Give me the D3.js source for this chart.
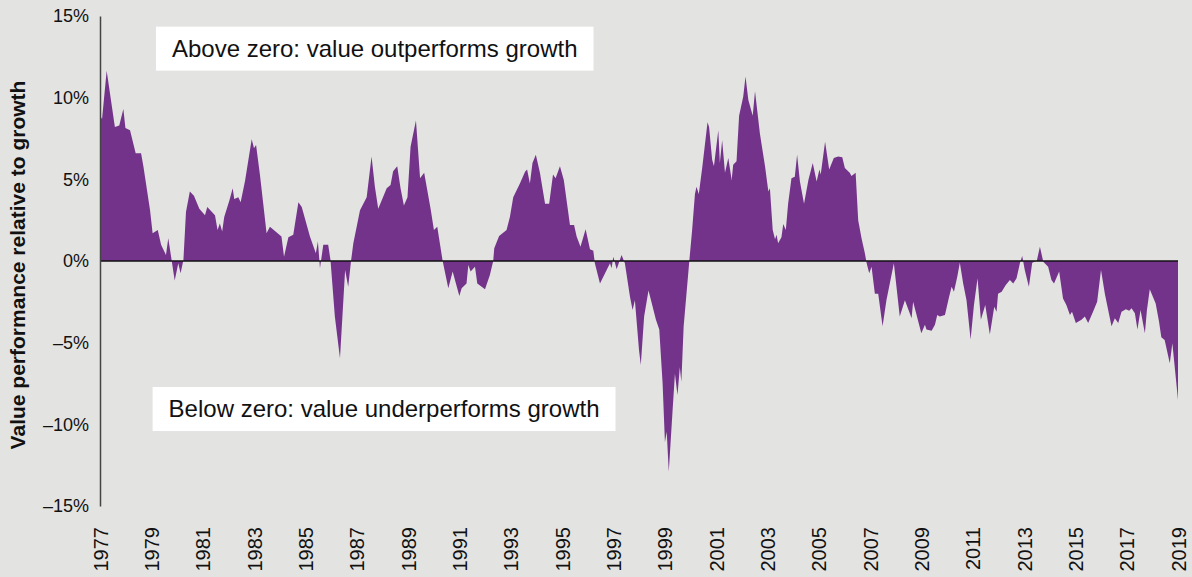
<!DOCTYPE html>
<html>
<head>
<meta charset="utf-8">
<script src="https://cdn.jsdelivr.net/npm/d3@7"></script>
<style>
  html, body { margin: 0; padding: 0; background: #e3e3e1; }
  svg { display: block; font-family: "Liberation Sans", Arial, sans-serif; }
</style>
</head>
<body>
<svg id="chart" width="1192" height="577"></svg>
<script>
// value minus growth (decimal year, %)
const years = [
  1977.0, 1977.08, 1977.26, 1977.58, 1977.75, 1977.91, 1977.99, 1978.17, 1978.39, 1978.6,
  1978.69, 1978.95, 1979.05, 1979.25, 1979.38, 1979.57, 1979.66, 1979.77, 1979.91, 1980.05,
  1980.14, 1980.25, 1980.35, 1980.5, 1980.66, 1980.87, 1981.09, 1981.18, 1981.48, 1981.58,
  1981.67, 1981.76, 1981.84, 1982.04, 1982.17, 1982.23, 1982.39, 1982.48, 1982.65, 1982.91,
  1983.0, 1983.08, 1983.23, 1983.36, 1983.49, 1983.62, 1984.07, 1984.17, 1984.34, 1984.53,
  1984.73, 1984.86, 1985.18, 1985.41, 1985.49, 1985.57, 1985.7, 1985.89, 1985.98, 1986.15,
  1986.35, 1986.55, 1986.67, 1986.78, 1986.87, 1987.13, 1987.39, 1987.58, 1987.71, 1987.84,
  1988.17, 1988.32, 1988.42, 1988.58, 1988.71, 1988.84, 1988.98, 1989.1, 1989.31, 1989.47,
  1989.63, 1989.88, 1990.01, 1990.14, 1990.35, 1990.57, 1990.74, 1991.0, 1991.09, 1991.28,
  1991.35, 1991.44, 1991.61, 1991.7, 1992.0, 1992.19, 1992.32, 1992.36, 1992.55, 1992.84,
  1992.97, 1993.1, 1993.36, 1993.56, 1993.64, 1993.75, 1993.85, 1993.98, 1994.14, 1994.34,
  1994.5, 1994.65, 1994.75, 1994.92, 1995.07, 1995.31, 1995.47, 1995.57, 1995.72, 1995.92,
  1996.09, 1996.22, 1996.28, 1996.48, 1996.74, 1996.87, 1996.93, 1997.0, 1997.13, 1997.32,
  1997.45, 1997.65, 1997.75, 1997.84, 1998.0, 1998.07, 1998.2, 1998.37, 1998.5, 1998.66,
  1998.79, 1998.92, 1999.01, 1999.08, 1999.16, 1999.31, 1999.4, 1999.5, 1999.59, 1999.65,
  1999.74, 1999.85, 1999.96, 2000.07, 2000.18, 2000.24, 2000.33, 2000.47, 2000.67, 2000.73,
  2000.85, 2000.92, 2001.09, 2001.15, 2001.24, 2001.35, 2001.48, 2001.61, 2001.67, 2001.8,
  2001.9, 2002.06, 2002.15, 2002.26, 2002.43, 2002.52, 2002.71, 2002.91, 2003.04, 2003.1,
  2003.21, 2003.3, 2003.36, 2003.42, 2003.55, 2003.62, 2003.72, 2003.81, 2003.94, 2004.07,
  2004.16, 2004.27, 2004.43, 2004.6, 2004.77, 2004.92, 2005.03, 2005.08, 2005.25, 2005.41,
  2005.59, 2005.76, 2005.92, 2006.02, 2006.21, 2006.28, 2006.44, 2006.54, 2006.67, 2006.8,
  2006.87, 2006.97, 2007.06, 2007.19, 2007.32, 2007.49, 2007.64, 2007.93, 2008.16, 2008.36,
  2008.62, 2008.68, 2009.0, 2009.14, 2009.2, 2009.4, 2009.53, 2009.62, 2009.72, 2009.92,
  2010.08, 2010.18, 2010.27, 2010.4, 2010.5, 2010.63, 2010.76, 2010.92, 2011.05, 2011.19,
  2011.32, 2011.49, 2011.67, 2011.84, 2011.93, 2011.99, 2012.13, 2012.29, 2012.45, 2012.58,
  2012.71, 2012.84, 2012.93, 2013.03, 2013.19, 2013.32, 2013.5, 2013.62, 2013.75, 2013.94,
  2014.07, 2014.17, 2014.37, 2014.52, 2014.65, 2014.79, 2014.87, 2015.02, 2015.24, 2015.37,
  2015.5, 2015.69, 2015.85, 2016.0, 2016.15, 2016.28, 2016.41, 2016.54, 2016.67, 2016.8,
  2016.97, 2017.1, 2017.19, 2017.32, 2017.42, 2017.54, 2017.71, 2017.79, 2017.9, 2018.13,
  2018.26, 2018.35, 2018.48, 2018.68, 2018.78, 2019.0
]
const values = [
  8.9, 8.7, 11.65, 8.2, 8.3, 9.3, 8.15, 8.0, 6.6, 6.6,
  5.8, 3.1, 1.7, 1.9, 1.0, 0.37, 1.4, 0.26, -1.2, -0.14,
  -0.75, 0.06, 3.0, 4.25, 4.0, 3.2, 2.8, 3.3, 2.8, 1.9,
  2.3, 1.8, 2.7, 3.7, 4.45, 3.8, 3.9, 3.6, 4.9, 7.45,
  6.9, 7.1, 5.3, 3.5, 1.7, 2.1, 1.5, 0.26, 1.45, 1.6,
  3.6, 3.3, 1.5, 0.47, 1.2, -0.45, 1.0, 1.0, 0.06, -3.4,
  -5.96, -0.55, -1.57, 0.0, 1.08, 3.1, 3.9, 6.4, 4.55, 3.2,
  4.45, 4.65, 5.5, 5.8, 4.45, 3.4, 3.9, 7.0, 8.6, 5.06,
  5.4, 3.2, 1.9, 2.1, 0.0, -1.67, -0.65, -2.14, -1.67, -1.37,
  -0.25, -0.65, -0.35, -1.37, -1.73, -0.86, 0.0, 0.78, 1.53, 1.9,
  2.7, 3.9, 4.75, 5.47, 5.6, 4.75, 6.0, 6.5, 5.4, 3.5,
  3.5, 5.3, 5.06, 5.8, 4.96, 2.2, 2.2, 1.5, 0.88, 1.94,
  0.72, 0.63, -0.14, -1.37, -0.55, -0.14, -0.45, 0.26, -0.5, 0.37,
  -0.14, -2.2, -3.0, -2.4, -5.45, -6.37, -3.4, -1.8, -2.6, -3.6,
  -4.2, -7.5, -11.1, -10.45, -12.9, -9.1, -6.9, -8.2, -6.5, -7.4,
  -4.0, -2.0, 0.0, 1.9, 4.1, 4.55, 4.1, 5.8, 8.5, 8.2,
  6.2, 5.8, 8.0, 6.0, 7.4, 5.4, 6.3, 4.96, 5.9, 6.1,
  8.9, 10.06, 11.3, 9.86, 8.9, 10.4, 7.8, 5.8, 4.25, 4.45,
  1.9, 1.33, 1.6, 1.08, 1.45, 2.27, 1.9, 3.5, 5.06, 5.16,
  6.5, 4.86, 3.5, 4.96, 6.0, 4.86, 5.6, 5.3, 7.3, 5.6,
  6.3, 6.4, 6.35, 5.7, 5.4, 5.2, 5.4, 2.5, 1.4, 0.47,
  -0.14, -0.75, -0.35, -2.0, -2.0, -4.0, -2.4, -0.14, -3.4, -2.4,
  -3.5, -2.5, -4.43, -3.9, -4.2, -4.27, -3.9, -3.3, -3.4, -3.3,
  -2.2, -1.57, -1.88, -0.96, -0.1, -1.37, -2.4, -4.8, -2.7, -1.06,
  -3.6, -2.7, -4.5, -2.8, -3.1, -2.0, -1.88, -1.47, -1.16, -1.37,
  -1.06, -0.14, 0.3, -0.55, -1.57, -0.1, 0.02, 0.88, -0.04, -0.35,
  -1.16, -1.37, -0.65, -2.3, -2.7, -3.3, -3.1, -3.8, -3.6, -3.4,
  -3.8, -3.1, -2.5, -0.55, -2.0, -3.0, -4.0, -3.5, -3.8, -3.1,
  -2.96, -3.04, -2.9, -3.2, -4.2, -3.0, -4.43, -3.0, -1.73, -2.6,
  -3.7, -4.67, -4.84, -6.26, -5.04, -8.5
]

const yTicks = [15, 10, 5, 0, -5, -10, -15]
const xTicks = d3.range(1977, 2020, 2)

const notes = [
  {text: "Above zero: value outperforms growth", value: 13.0, x0: 1979.18},
  {text: "Below zero: value underperforms growth", value: -9.06, x0: 1979.05},
]

const yTitle = "Value performance relative to growth"

const purple = "#73338a"
const width = 1192
const height = 577
const margin = {top: 16, right: 14, bottom: 71, left: 100}

const svg = d3.select("#chart")

const x = d3.scaleLinear()
    .domain([1977, 2019])
    .range([margin.left, width - margin.right])

const y = d3.scaleLinear()
    .domain([-15, 15])
    .range([height - margin.bottom, margin.top])

const data = years.map((yr, i) => ({year: yr, value: values[i]}))

const area = d3.area()
    .x(d => x(d.year))
    .y0(y(0))
    .y1(d => y(d.value))

svg.append("path")
    .datum(data)
    .attr("fill", purple)
    .attr("d", area)

// zero line
svg.append("line")
    .attr("x1", x(1977))
    .attr("x2", x(2019))
    .attr("y1", y(0))
    .attr("y2", y(0))
    .attr("stroke", "#111")
    .attr("stroke-width", 1.5)

const fmtPct = d => (d < 0 ? "\u2013" : "") + Math.abs(d) + "%"

const yAxis = svg.append("g")
    .attr("transform", `translate(${margin.left},0)`)
    .call(d3.axisLeft(y).tickValues(yTicks).tickFormat(fmtPct).tickSize(0).tickPadding(11))

yAxis.select(".domain").attr("stroke", "#444").attr("stroke-width", 1.5)
yAxis.selectAll("text")
    .attr("fill", "#111")
    .style("font-size", "18px")
    .style("font-family", "Liberation Sans, Arial, sans-serif")

const xAxis = svg.append("g")
    .attr("transform", `translate(0,${height - margin.bottom})`)
    .call(d3.axisBottom(x).tickValues(xTicks).tickFormat(d3.format("d")).tickSize(0))

xAxis.select(".domain").remove()
xAxis.selectAll("text")
    .attr("transform", "rotate(-90)")
    .attr("x", -21)
    .attr("y", 0)
    .attr("dy", "0.36em")
    .attr("fill", "#111")
    .style("text-anchor", "end")
    .style("font-size", "20px")
    .style("font-family", "Liberation Sans, Arial, sans-serif")

svg.append("text")
    .attr("transform", `translate(25,${(y(15) + y(-15)) / 2 + 4}) rotate(-90)`)
    .attr("text-anchor", "middle")
    .attr("fill", "#111")
    .style("font-size", "21px")
    .style("font-weight", "bold")
    .text(yTitle)

notes.forEach(n => {
    const g = svg.append("g")
    const t = g.append("text")
        .attr("x", x(n.x0) + 16)
        .attr("y", y(n.value))
        .attr("dy", "0.35em")
        .attr("fill", "#111")
        .style("font-size", "24px")
        .text(n.text)
    const bb = t.node().getBBox()
    g.insert("rect", "text")
        .attr("x", x(n.x0))
        .attr("y", y(n.value) - 22)
        .attr("width", bb.width + 32)
        .attr("height", 44)
        .attr("fill", "#fff")
})
</script>
</body>
</html>
